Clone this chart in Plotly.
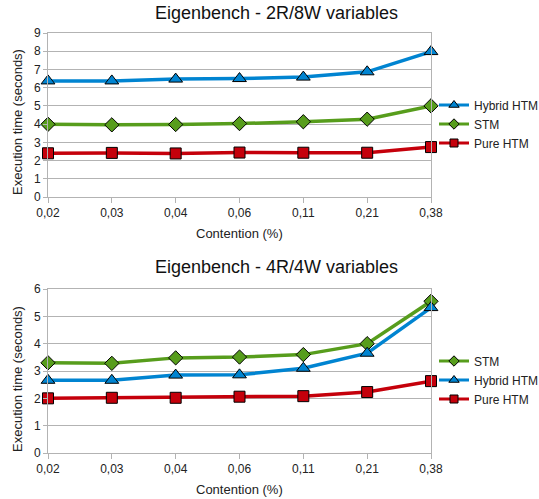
import plotly.graph_objects as go

categories = ["0,02", "0,03", "0,04", "0,06", "0,11", "0,21", "0,38"]

top_hybrid = [6.37, 6.37, 6.47, 6.5, 6.58, 6.87, 7.98]
top_stm = [3.99, 3.96, 3.98, 4.03, 4.13, 4.27, 5.0]
top_pure = [2.4, 2.42, 2.39, 2.44, 2.43, 2.43, 2.74]

bot_stm = [3.3, 3.28, 3.48, 3.51, 3.6, 4.0, 5.55]
bot_hybrid = [2.66, 2.66, 2.85, 2.86, 3.1, 3.65, 5.32]
bot_pure = [2.0, 2.02, 2.02, 2.06, 2.08, 2.23, 2.63]

BLUE = "#0084d1"
GREEN = "#579d1c"
RED = "#c5000b"
FONT = "Liberation Sans"

W, H = 539, 499

def px_x(v):
    return v / W

def px_y(v):
    return 1 - v / H

fig = go.Figure()

def add(x, y, name, color, symbol, xa, ya, legend, size):
    fig.add_trace(go.Scatter(
        x=x, y=y, name=name, mode="lines+markers",
        line=dict(color=color, width=3.5),
        marker=dict(symbol=symbol, size=size, color=color,
                    line=dict(color="black", width=1)),
        xaxis=xa, yaxis=ya, legend=legend, cliponaxis=False,
        showlegend=False,
    ))
    # legend entry with smaller marker, as in the reference legend
    fig.add_trace(go.Scatter(
        x=[None], y=[None], name=name, mode="lines+markers",
        line=dict(color=color, width=3),
        marker=dict(symbol=symbol, size=size - 3, color=color,
                    line=dict(color="black", width=1)),
        xaxis=xa, yaxis=ya, legend=legend, hoverinfo="skip",
    ))

add(categories, top_hybrid, "Hybrid HTM", BLUE, "triangle-up", "x", "y", "legend", 12)
add(categories, top_stm, "STM", GREEN, "diamond", "x", "y", "legend", 11)
add(categories, top_pure, "Pure HTM", RED, "square", "x", "y", "legend", 11)

add(categories, bot_stm, "STM", GREEN, "diamond", "x2", "y2", "legend2", 11)
add(categories, bot_hybrid, "Hybrid HTM", BLUE, "triangle-up", "x2", "y2", "legend2", 12)
add(categories, bot_pure, "Pure HTM", RED, "square", "x2", "y2", "legend2", 11)

grid = "#b3b3b3"
xcommon = dict(type="category", range=[0, 6], showgrid=False, showline=True,
               linecolor=grid, mirror=True, ticks="outside", ticklen=5,
               tickcolor=grid, automargin=False,
               tickfont=dict(size=12, color="#222", family=FONT))
ycommon = dict(showgrid=True, gridcolor=grid, showline=True, linecolor=grid,
               mirror=True, ticks="outside", ticklen=4, tickcolor=grid, dtick=1,
               zeroline=False, automargin=False,
               tickfont=dict(size=12, color="#222", family=FONT))

legend_common = dict(xanchor="left", yanchor="middle",
                     font=dict(size=12, family=FONT, color="#222"),
                     itemwidth=30, tracegroupgap=0, bgcolor="rgba(0,0,0,0)",
                     borderwidth=0, itemsizing="trace")

def label(text, x, y, size=13, angle=0, color="#222"):
    return dict(text=text, x=px_x(x), y=px_y(y), xref="paper", yref="paper",
                showarrow=False, textangle=angle,
                font=dict(size=size, family=FONT, color=color),
                xanchor="center", yanchor="middle")

fig.update_layout(
    width=W, height=H,
    margin=dict(l=0, r=0, t=0, b=0, autoexpand=False),
    paper_bgcolor="white", plot_bgcolor="white",
    font=dict(family=FONT, color="#222"),
    xaxis=dict(domain=[px_x(48), px_x(431)], anchor="y", **xcommon),
    yaxis=dict(domain=[px_y(197), px_y(33)], anchor="x", range=[0, 9], **ycommon),
    xaxis2=dict(domain=[px_x(48), px_x(431)], anchor="y2", **xcommon),
    yaxis2=dict(domain=[px_y(453), px_y(289)], anchor="x2", range=[0, 6], **ycommon),
    legend=dict(x=px_x(434), y=px_y(124), **legend_common),
    legend2=dict(x=px_x(434), y=px_y(380), **legend_common),
    annotations=[
        label("Eigenbench - 2R/8W variables", 276, 13, size=18, color="#111"),
        label("Eigenbench - 4R/4W variables", 276, 267, size=18, color="#111"),
        label("Execution time (seconds)", 17, 122, angle=-90),
        label("Execution time (seconds)", 17, 379, angle=-90),
        label("Contention (%)", 239, 233),
        label("Contention (%)", 239, 489),
    ],
)

fig.write_html(
    "out.html",
    config={"displayModeBar": False},
    post_script="document.body.style.margin='0';document.documentElement.style.overflow='hidden';",
)
